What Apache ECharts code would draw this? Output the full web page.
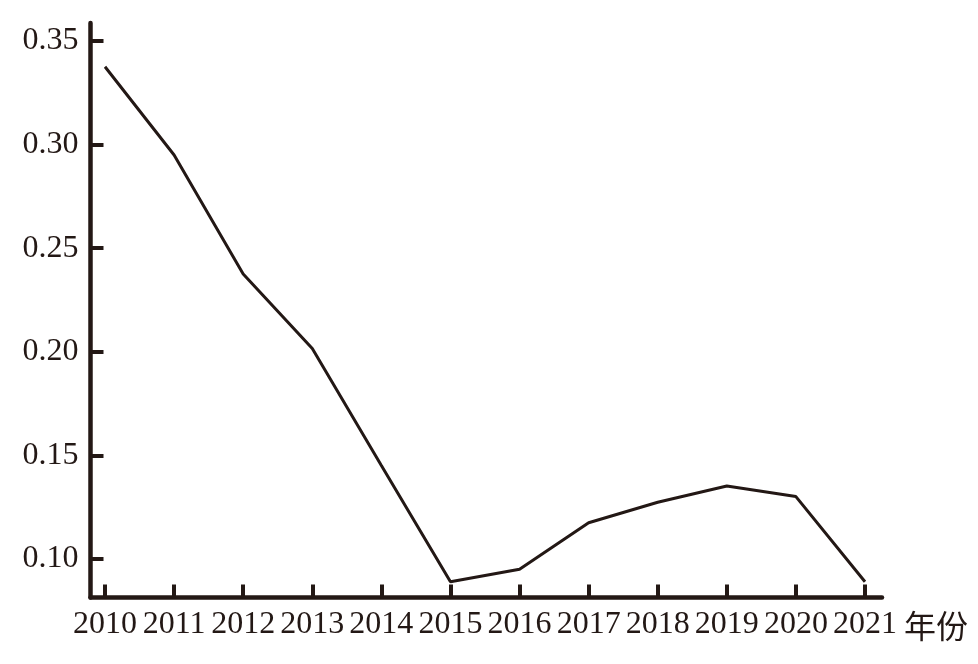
<!DOCTYPE html>
<html>
<head>
<meta charset="utf-8">
<script src="https://cdn.jsdelivr.net/npm/echarts@6/dist/echarts.min.js"></script>
<style>
html,body{margin:0;padding:0;background:#fff;}
#chart{width:978px;height:664px;}
</style>
</head>
<body>
<div id="chart"></div>
<script>
const years = [2010, 2011, 2012, 2013, 2014, 2015, 2016, 2017, 2018, 2019, 2020, 2021];
const values = [0.3376, 0.2950, 0.2375, 0.2016, 0.1451, 0.0890, 0.0950, 0.1175, 0.1274, 0.1352, 0.1301, 0.0890];
const yTicks = [0.10, 0.15, 0.20, 0.25, 0.30, 0.35];
const xName = '年份';

const ink = '#231815';
const font = '"Liberation Serif", "Noto Sans CJK SC", serif';

const chart = echarts.init(document.getElementById('chart'));
chart.setOption({
  animation: false,
  backgroundColor: '#fff',
  grid: { left: 90.5, right: 96, top: 23, bottom: 66.5, containLabel: false },
  xAxis: {
    type: 'value',
    min: 2009.79,
    max: 2021.246,
    name: xName,
    nameLocation: 'end',
    nameGap: 22,
    nameTextStyle: { color: ink, fontSize: 32, fontFamily: '"Noto Sans CJK SC", serif', verticalAlign: 'top', padding: [12, 0, 0, 0] },
    splitLine: { show: false },
    axisLine: { show: true, lineStyle: { color: ink, width: 4.5 } },
    axisTick: { show: true, inside: true, length: 13, customValues: years, lineStyle: { color: ink, width: 4 } },
    axisLabel: { customValues: years, color: ink, fontSize: 32, fontFamily: font, margin: 11, formatter: v => String(v) }
  },
  yAxis: {
    type: 'value',
    min: 0.0814,
    max: 0.3587,
    splitLine: { show: false },
    axisLine: { show: true, lineStyle: { color: ink, width: 4.5 } },
    axisTick: { show: true, inside: true, length: 13, customValues: yTicks, lineStyle: { color: ink, width: 4 } },
    axisLabel: { customValues: yTicks, color: ink, fontSize: 32, fontFamily: font, margin: 12, formatter: v => v.toFixed(2) }
  },
  series: [{
    type: 'line',
    data: years.map((y, i) => [y, values[i]]),
    symbol: 'none',
    lineStyle: { color: ink, width: 3 }
  }]
});
</script>
</body>
</html>
